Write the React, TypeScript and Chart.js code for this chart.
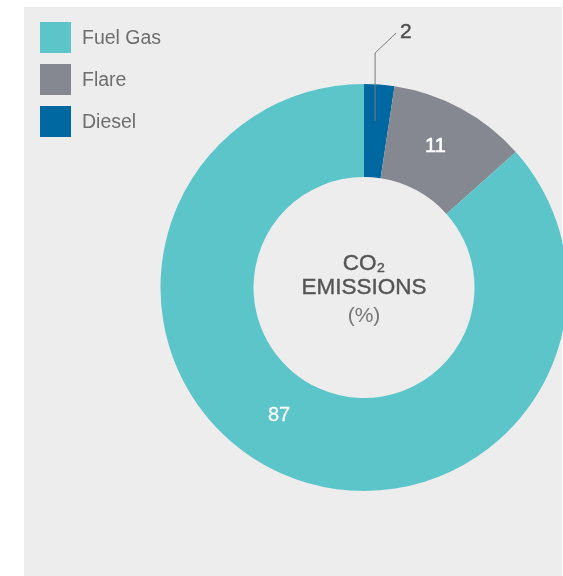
import React, { useEffect, useRef } from "react";
import { Chart, registerables } from "chart.js";

Chart.register(...registerables);

const categories = ["Diesel", "Flare", "Fuel Gas"];
const shares = [2.4, 11, 86.6];
const colors = ["#0068a1", "#868891", "#5bc5ca"];
const legendOrder = ["Fuel Gas", "Flare", "Diesel"];
const centerLines = ["CO₂", "EMISSIONS", "(%)"];

const FONT = "'Liberation Sans', Arial, Helvetica, sans-serif";

function heavyText(ctx: CanvasRenderingContext2D, text: string, x: number, y: number, color: string, w: number) {
  ctx.fillStyle = color;
  ctx.strokeStyle = color;
  ctx.lineWidth = w;
  ctx.lineJoin = "round";
  ctx.fillText(text, x, y);
  if (w > 0) ctx.strokeText(text, x, y);
}

export default function App() {
  const ref = useRef<HTMLCanvasElement | null>(null);

  useEffect(() => {
    document.body.style.margin = "0";
    const canvas = ref.current;
    if (!canvas) return;

    const overlay = {
      id: "overlay",
      afterDatasetsDraw(chart: any) {
        const ctx = chart.ctx as CanvasRenderingContext2D;
        const meta = chart.getDatasetMeta(0);
        const ds = chart.data.datasets[0];
        ctx.save();
        meta.data.forEach((arc: any, i: number) => {
          const v = Math.round(ds.data[i] as number);
          const { x, y, startAngle, endAngle, innerRadius, outerRadius } = arc.getProps(
            ["x", "y", "startAngle", "endAngle", "innerRadius", "outerRadius"],
            true
          );
          const name = categories[i];
          if (name === "Diesel") {
            const mid = (startAngle + endAngle) / 2;
            const r = (innerRadius + outerRadius) / 2 + 10;
            const px = x + Math.cos(mid) * r - 1.5;
            const py = y + Math.sin(mid) * r;
            const topY = y - outerRadius - 31;
            ctx.strokeStyle = "#7a7a7a";
            ctx.lineWidth = 1;
            ctx.beginPath();
            ctx.moveTo(px, py);
            ctx.lineTo(px, topY);
            ctx.lineTo(px + 21, topY - 20);
            ctx.stroke();
            ctx.font = `21px ${FONT}`;
            ctx.textAlign = "left";
            ctx.textBaseline = "middle";
            heavyText(ctx, String(v), px + 25, topY - 21, "#505050", 0.5);
          } else {
            const frac = name === "Fuel Gas" ? 0.53 : 0.46;
            const ang = startAngle + (endAngle - startAngle) * frac;
            const r = name === "Fuel Gas" ? 154 : (innerRadius + outerRadius) / 2 + 1;
            ctx.font = `20px ${FONT}`;
            ctx.textAlign = "center";
            ctx.textBaseline = "middle";
            heavyText(ctx, String(v), x + Math.cos(ang) * r, y + Math.sin(ang) * r, "#ffffff", name === "Flare" ? 0.6 : 0.3);
          }
        });
        ctx.restore();
      },
      afterDraw(chart: any) {
        const ctx = chart.ctx as CanvasRenderingContext2D;
        const arc = chart.getDatasetMeta(0).data[0];
        const cx = arc.x;
        const cy = arc.y;
        ctx.save();
        // center text
        ctx.textAlign = "center";
        ctx.textBaseline = "middle";
        ctx.font = `22.5px ${FONT}`;
        heavyText(ctx, centerLines[0], cx, cy - 24, "#555555", 0.4);
        heavyText(ctx, centerLines[1], cx, cy, "#555555", 0.4);
        ctx.font = `21px ${FONT}`;
        heavyText(ctx, centerLines[2], cx, cy + 29, "#777777", 0);
        // legend
        legendOrder.forEach((name, k) => {
          const idx = categories.indexOf(name);
          const top = 22 + k * 42;
          ctx.fillStyle = colors[idx];
          ctx.fillRect(40, top, 31, 31);
          ctx.font = `19.5px ${FONT}`;
          ctx.textAlign = "left";
          ctx.textBaseline = "middle";
          heavyText(ctx, name, 82, top + 16.5, "#6e6e6e", 0);
        });
        ctx.restore();
      },
    };

    const chart = new Chart(canvas, {
      type: "doughnut",
      data: {
        labels: categories,
        datasets: [
          {
            data: shares,
            backgroundColor: colors,
            borderWidth: 0,
            hoverOffset: 0,
          },
        ],
      },
      options: {
        responsive: false,
        animation: false,
        cutout: "54.3%",
        layout: { padding: { left: 160.5, top: 84, right: 32.5, bottom: 85 } },
        plugins: {
          legend: { display: false },
          tooltip: { enabled: false },
        },
        events: [],
      },
      plugins: [overlay],
    });
    return () => chart.destroy();
  }, []);

  return (
    <div style={{ position: "relative", width: 563, height: 576, overflow: "hidden", background: "#ffffff" }}>
      <div
        style={{
          position: "absolute",
          left: 24,
          top: 7,
          width: 538,
          height: 569,
          background: "#ededed",
        }}
      />
      <canvas
        ref={ref}
        width={600}
        height={576}
        style={{ position: "absolute", left: 0, top: 0, width: 600, height: 576 }}
      />
    </div>
  );
}
